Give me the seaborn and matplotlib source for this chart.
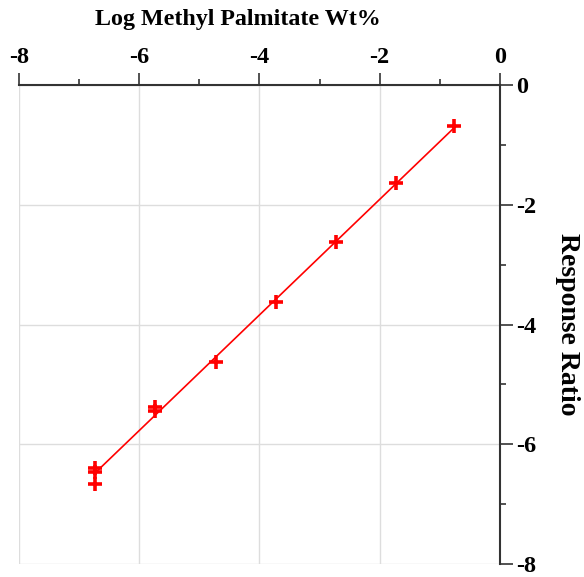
import numpy as np
import pandas as pd
import matplotlib
matplotlib.use("Agg")
import matplotlib.pyplot as plt
import seaborn as sns
from matplotlib.ticker import MultipleLocator

log_wt = [-6.74, -6.74, -6.74, -5.73, -5.73, -4.73, -3.73, -2.73, -1.73, -0.76]
response = [-6.40, -6.47, -6.66, -5.38, -5.45, -4.63, -3.63, -2.63, -1.64, -0.69]

x_ticks = [-8, -6, -4, -2, 0]
y_ticks = [0, -2, -4, -6, -8]

df = pd.DataFrame({"Log Methyl Palmitate Wt%": log_wt, "Response Ratio": response})

sns.set_theme(style="white")
plt.rcParams['font.family'] = ['Liberation Serif', 'DejaVu Serif']
plt.rcParams['font.weight'] = 'bold'
plt.rcParams['axes.unicode_minus'] = False

fig = plt.figure(figsize=(5.84, 5.77), dpi=100)
ax = fig.add_axes([0.0325, 0.0225, 0.8235, 0.8302])

sns.regplot(data=df, x="Log Methyl Palmitate Wt%", y="Response Ratio", ax=ax,
            ci=None, color="red", marker="+",
            scatter_kws=dict(s=110, linewidths=2.6, zorder=3, alpha=1),
            line_kws=dict(lw=1.2, zorder=2))

ax.set_xlim(-8, 0)
ax.set_ylim(-8, 0)
ax.set_xticks(x_ticks)
ax.set_yticks(y_ticks)
ax.xaxis.set_minor_locator(MultipleLocator(1))
ax.yaxis.set_minor_locator(MultipleLocator(1))
ax.grid(True, which="major", color="#dddddd", lw=1)
ax.set_axisbelow(True)

for s in ["left", "bottom"]:
    ax.spines[s].set_visible(False)
for s in ["top", "right"]:
    ax.spines[s].set_visible(True)
    ax.spines[s].set_color("#333333")
    ax.spines[s].set_linewidth(1.5)

ax.xaxis.set_ticks_position("top")
ax.xaxis.set_label_position("top")
ax.yaxis.set_ticks_position("right")
ax.yaxis.set_label_position("right")
ax.tick_params(which="major", direction="out", length=9, width=1.2, color="#333333",
               labelsize=17.5, pad=3)
ax.tick_params(which="minor", direction="out", length=4, width=1.2, color="#333333")
for lab in ax.get_xticklabels() + ax.get_yticklabels():
    lab.set_fontweight("bold")
    lab.set_color("black")

ax.set_xlabel("Log Methyl Palmitate Wt%", fontsize=17.3, fontweight="bold", color="black")
ax.xaxis.set_label_coords(0.455, 1.137)
ax.xaxis.label.set_verticalalignment("center")
ax.set_ylabel("Response Ratio", fontsize=20, fontweight="bold", color="black",
              rotation=270)
ax.yaxis.set_label_coords(1.14, 0.5)
ax.yaxis.label.set_verticalalignment("center")
ax.yaxis.label.set_horizontalalignment("center")

fig.savefig("out.png", dpi=100)
